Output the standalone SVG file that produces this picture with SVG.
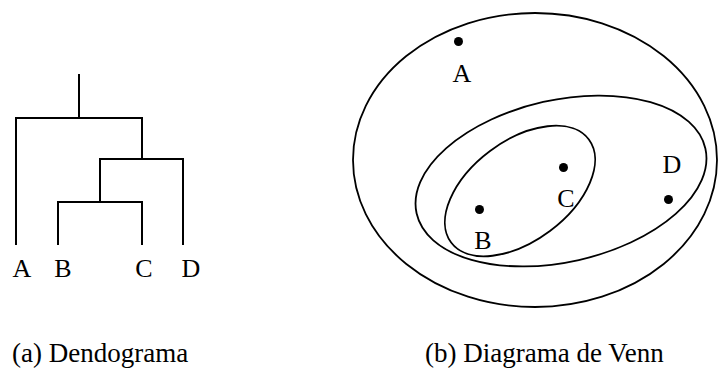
<svg xmlns="http://www.w3.org/2000/svg" width="718" height="369" viewBox="0 0 718 369">
<style>
.ln{fill:none;stroke:#000;stroke-width:2;stroke-linecap:square}
.el{fill:none;stroke:#000;stroke-width:1.8}
.lb{font-family:'Liberation Serif','DejaVu Serif',serif;font-size:26px;fill:#000}
.cap{font-family:'Liberation Serif','DejaVu Serif',serif;font-size:27px;fill:#000}
.dot{fill:#000}
</style>
<rect width="718" height="369" fill="#fff"/>
<g id="connectors">
<path class="ln" d="M79,75 V118 M16,244 V118 H142 V159 M100,202 V159 H183 V244 M58,244 V202 H142 V244"/>
</g>
<g id="leaf-A"><text class="lb" x="22" y="277" text-anchor="middle">A</text></g>
<g id="leaf-B"><text class="lb" x="63" y="277" text-anchor="middle">B</text></g>
<g id="leaf-C"><text class="lb" x="144" y="277" text-anchor="middle">C</text></g>
<g id="leaf-D"><text class="lb" x="191" y="277" text-anchor="middle">D</text></g>
<g id="caption-a"><text class="cap" x="12" y="362">(a) Dendograma</text></g>
<g id="venn-outer"><ellipse class="el" cx="535" cy="160" rx="182" ry="147"/></g>
<g id="venn-middle"><ellipse class="el" cx="561" cy="181" rx="148" ry="81" transform="rotate(-12.7 561 181)"/></g>
<g id="venn-inner"><ellipse class="el" cx="520" cy="191" rx="86" ry="50" transform="rotate(-36.8 520 191)"/></g>
<g id="venn-A"><circle class="dot" cx="458.5" cy="41.5" r="4.5"/><text class="lb" x="462" y="82" text-anchor="middle">A</text></g>
<g id="venn-B"><circle class="dot" cx="479.5" cy="209.5" r="4.5"/><text class="lb" x="483" y="249" text-anchor="middle">B</text></g>
<g id="venn-C"><circle class="dot" cx="563.5" cy="167.5" r="4.5"/><text class="lb" x="566" y="207" text-anchor="middle">C</text></g>
<g id="venn-D"><circle class="dot" cx="668.5" cy="199.5" r="4.5"/><text class="lb" x="672" y="173" text-anchor="middle">D</text></g>
<g id="caption-b"><text class="cap" x="425" y="362">(b) Diagrama de Venn</text></g>
</svg>
